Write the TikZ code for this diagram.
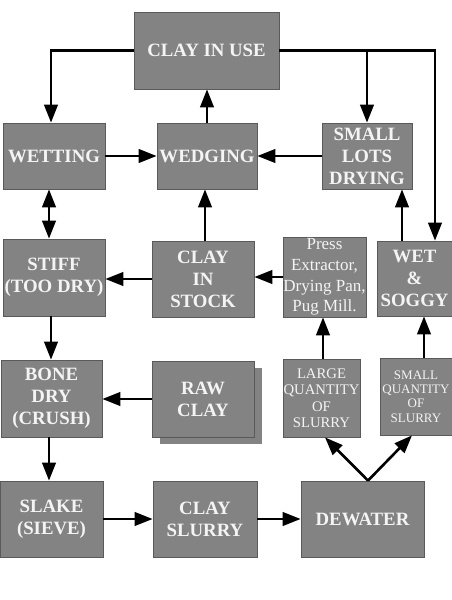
\documentclass[tikz,border=0pt]{standalone}
\usepackage{fontspec}
\setmainfont{Liberation Serif}
\usetikzlibrary{arrows.meta}
\definecolor{boxfill}{HTML}{838383}
\definecolor{boxline}{HTML}{5A5A5A}
\definecolor{boxtext}{HTML}{F4F4F4}
\begin{document}
\begin{tikzpicture}[x=1pt,y=-1pt,
  box/.style={draw=boxline,line width=0.8pt,fill=boxfill,text=boxtext,inner sep=0pt,align=center,
    font=\fontsize{18.8}{22}\selectfont\bfseries},
  pressfont/.style={font=\fontsize{17}{20.7}\selectfont},
  largefont/.style={font=\fontsize{14.7}{16.4}\selectfont},
  smallfont/.style={font=\fontsize{13}{14.2}\selectfont},
  arr/.style={line width=2.6pt,-{Triangle[length=18pt,width=13.5pt]}},
  dbl/.style={line width=2.6pt,{Triangle[length=18pt,width=13.5pt]}-{Triangle[length=18pt,width=13.5pt]}}]
\useasboundingbox (0,0) rectangle (452,600);
% shadow of raw clay
\fill[boxfill] (160,368) rectangle (262,444);
\node[box,minimum width=145pt,minimum height=77pt] (use) at (206.5,50.5) {CLAY IN USE};
\node[box,minimum width=102pt,minimum height=66pt] (wet) at (54,156) {WETTING};
\node[box,minimum width=100pt,minimum height=66pt] (wed) at (207,156) {WEDGING};
\node[box,minimum width=90pt,minimum height=66pt] (lots) at (367,156) {SMALL\\LOTS\\DRYING};
\node[box,minimum width=102pt,minimum height=77pt] (stiff) at (54,277.5) {STIFF\\(TOO DRY)};
\node[box,minimum width=102pt,minimum height=76pt] (stock) at (203,279) {CLAY\\IN\\STOCK};
\node[box,pressfont,minimum width=83pt,minimum height=80pt] (press) at (324.5,277) {Press\\Extractor,\\Drying Pan,\\Pug Mill.};
\node[box,minimum width=75pt,minimum height=75pt] (soggy) at (414.5,278.5) {WET\\\&\\SOGGY};
\node[box,minimum width=101pt,minimum height=77pt] (bone) at (51.5,398.5) {BONE\\DRY\\(CRUSH)};
\node[box,minimum width=102pt,minimum height=76pt] (raw) at (203,399) {RAW\\CLAY};
\node[box,largefont,minimum width=77pt,minimum height=78pt] (large) at (321.5,398) {LARGE\\QUANTITY\\OF\\SLURRY};
\node[box,smallfont,minimum width=72pt,minimum height=77pt] (smallq) at (416,396.5) {SMALL\\QUANTITY\\OF\\SLURRY};
\node[box,minimum width=103pt,minimum height=76pt] (slake) at (51.5,519) {SLAKE\\(SIEVE)};
\node[box,minimum width=104pt,minimum height=76pt] (slurry) at (205,519) {CLAY\\SLURRY};
\node[box,minimum width=123pt,minimum height=76pt] (dewater) at (362.5,519) {DEWATER};
% connectors
\coordinate (wetin) at ([xshift=-3pt]wet.north);
\draw[arr] (use.west) -| (wetin);
\coordinate (soggyin) at ([xshift=20.5pt]soggy.north);
\draw[arr] (use.east) -| (soggyin);
\draw[arr] (use.east -| lots.north) -- (lots.north);
\draw[arr] (wed.north) -- (wed.north |- use.south);
\draw[arr] (wet.east) -- (wed.west);
\draw[arr] (lots.west) -- (wed.east);
\coordinate (ws) at ([xshift=-5pt]wet.south);
\draw[dbl] (ws) -- (ws |- stiff.north);
\coordinate (stockup) at ([xshift=2pt]stock.north);
\draw[arr] (stockup) -- (stockup |- wed.south);
\draw[arr] (press.west) -- (press.west -| stock.east);
\draw[arr] (stock.west) -- (stock.west -| stiff.east);
\coordinate (soggyup) at ([xshift=-12.5pt]soggy.north);
\draw[arr] (soggyup) -- (soggyup |- lots.south);
\coordinate (stiffdn) at ([xshift=-3pt]stiff.south);
\draw[arr] (stiffdn) -- (stiffdn |- bone.north);
\draw[arr] (raw.west) -- (raw.west -| bone.east);
\coordinate (largeup) at ([xshift=1.5pt]large.north);
\draw[arr] (largeup) -- (largeup |- press.south);
\coordinate (smallup) at ([xshift=8pt]smallq.north);
\draw[arr] (smallup) -- (smallup |- soggy.south);
\coordinate (bonedn) at ([xshift=-2.5pt]bone.south);
\draw[arr] (bonedn) -- (bonedn |- slake.north);
\draw[arr] (slake.east) -- (slurry.west);
\draw[arr] (slurry.east) -- (dewater.west);
\coordinate (dw) at ([xshift=5.5pt]dewater.north);
\coordinate (lb) at ([xshift=3.5pt]large.south);
\coordinate (sb) at ([xshift=-4pt]smallq.south);
\draw[arr] (dw) -- (lb);
\draw[arr] (dw) -- (sb);
\end{tikzpicture}
\end{document}
